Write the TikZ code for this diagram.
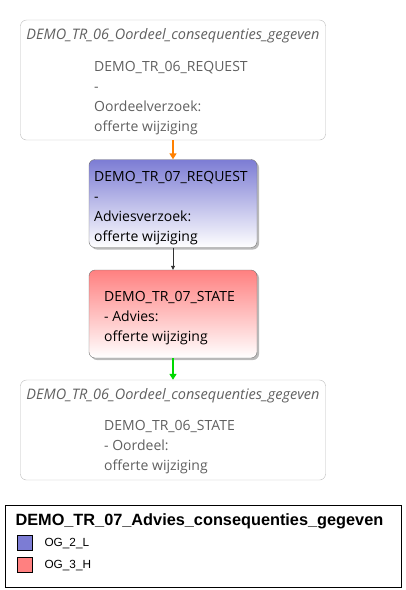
\documentclass[tikz,border=0pt]{standalone}
\usepackage{fontspec}
\setmainfont{Open Sans}
\setsansfont{Liberation Sans}
\usetikzlibrary{arrows.meta,shadows}

\definecolor{ogblue}{RGB}{124,124,212}
\definecolor{ogred}{RGB}{255,128,128}
\definecolor{extgray}{RGB}{96,96,96}

\tikzset{extbox/.style = {draw=black!27, rounded corners=6pt, minimum width=305pt, minimum height=#1},
         extbox/.default=120pt,
         exttitle/.style = {text=extgray, font=\fontsize{14.5}{16}\selectfont\itshape},
         lines/.style = {anchor=north west, inner sep=0pt, align=left, font=\fontsize{14}{20}\selectfont},
         actbox/.style = {draw=black!55, rounded corners=6pt, minimum width=168pt, minimum height=88pt,
                          top color=#1, bottom color=white,
                          drop shadow={shadow xshift=2pt, shadow yshift=-2pt, opacity=0.45, fill=black!60}},
         flow/.style = {-{Triangle[length=6pt,width=7pt]}, line width=2pt, draw=#1},
         swatch/.style = {draw=black, minimum size=15pt, inner sep=0pt}
        }

\begin{document}
\begin{tikzpicture}[x=1pt,y=-1pt]
\useasboundingbox (0,0) rectangle (406,590);
% outer transaction, request
\node[extbox] (req6) at (173,80) {};
\node[exttitle] (req6t) at (173,36) {DEMO\_TR\_06\_Oordeel\_consequenties\_gegeven};
\node[lines, text=extgray] (req6l) at (94,61.5) {DEMO\_TR\_06\_REQUEST\\-\\Oordeelverzoek:\\offerte wijziging};
% own transaction
\node[actbox=ogblue] (req7) at (173,203.5) {};
\node[lines] (req7l) at (94,171) {DEMO\_TR\_07\_REQUEST\\-\\Adviesverzoek:\\offerte wijziging};
\node[actbox=ogred] (st7) at (173,314) {};
\node[lines] (st7l) at (104,291.5) {DEMO\_TR\_07\_STATE\\- Advies:\\offerte wijziging};
% outer transaction, state
\node[extbox=100pt] (st6) at (173,430) {};
\node[exttitle] (st6t) at (173,396) {DEMO\_TR\_06\_Oordeel\_consequenties\_gegeven};
\node[lines, text=extgray] (st6l) at (104,420.5) {DEMO\_TR\_06\_STATE\\- Oordeel:\\offerte wijziging};

\draw[flow=orange] (req6) -- (req7);
\draw[-{Triangle[length=4pt,width=4pt]}, black!80] (req7) -- (st7);
\draw[flow=green!85!black] (st7) -- (st6);

% legend
\node[draw=black, minimum width=396pt, minimum height=82pt] (leg) at (203,546) {};
\node[anchor=west, font=\sffamily\bfseries\fontsize{16.3}{18}\selectfont] (legt) at (12,521) {DEMO\_TR\_07\_Advies\_consequenties\_gegeven};
\node[swatch, fill=ogblue] (sw1) at (24.5,543) {};
\node[anchor=west, font=\sffamily\fontsize{11.8}{13}\selectfont] (sw1l) at (41,544) {OG\_2\_L};
\node[swatch, fill=ogred] (sw2) at (24.5,565) {};
\node[anchor=west, font=\sffamily\fontsize{11.8}{13}\selectfont] (sw2l) at (41,566) {OG\_3\_H};
\end{tikzpicture}
\end{document}
